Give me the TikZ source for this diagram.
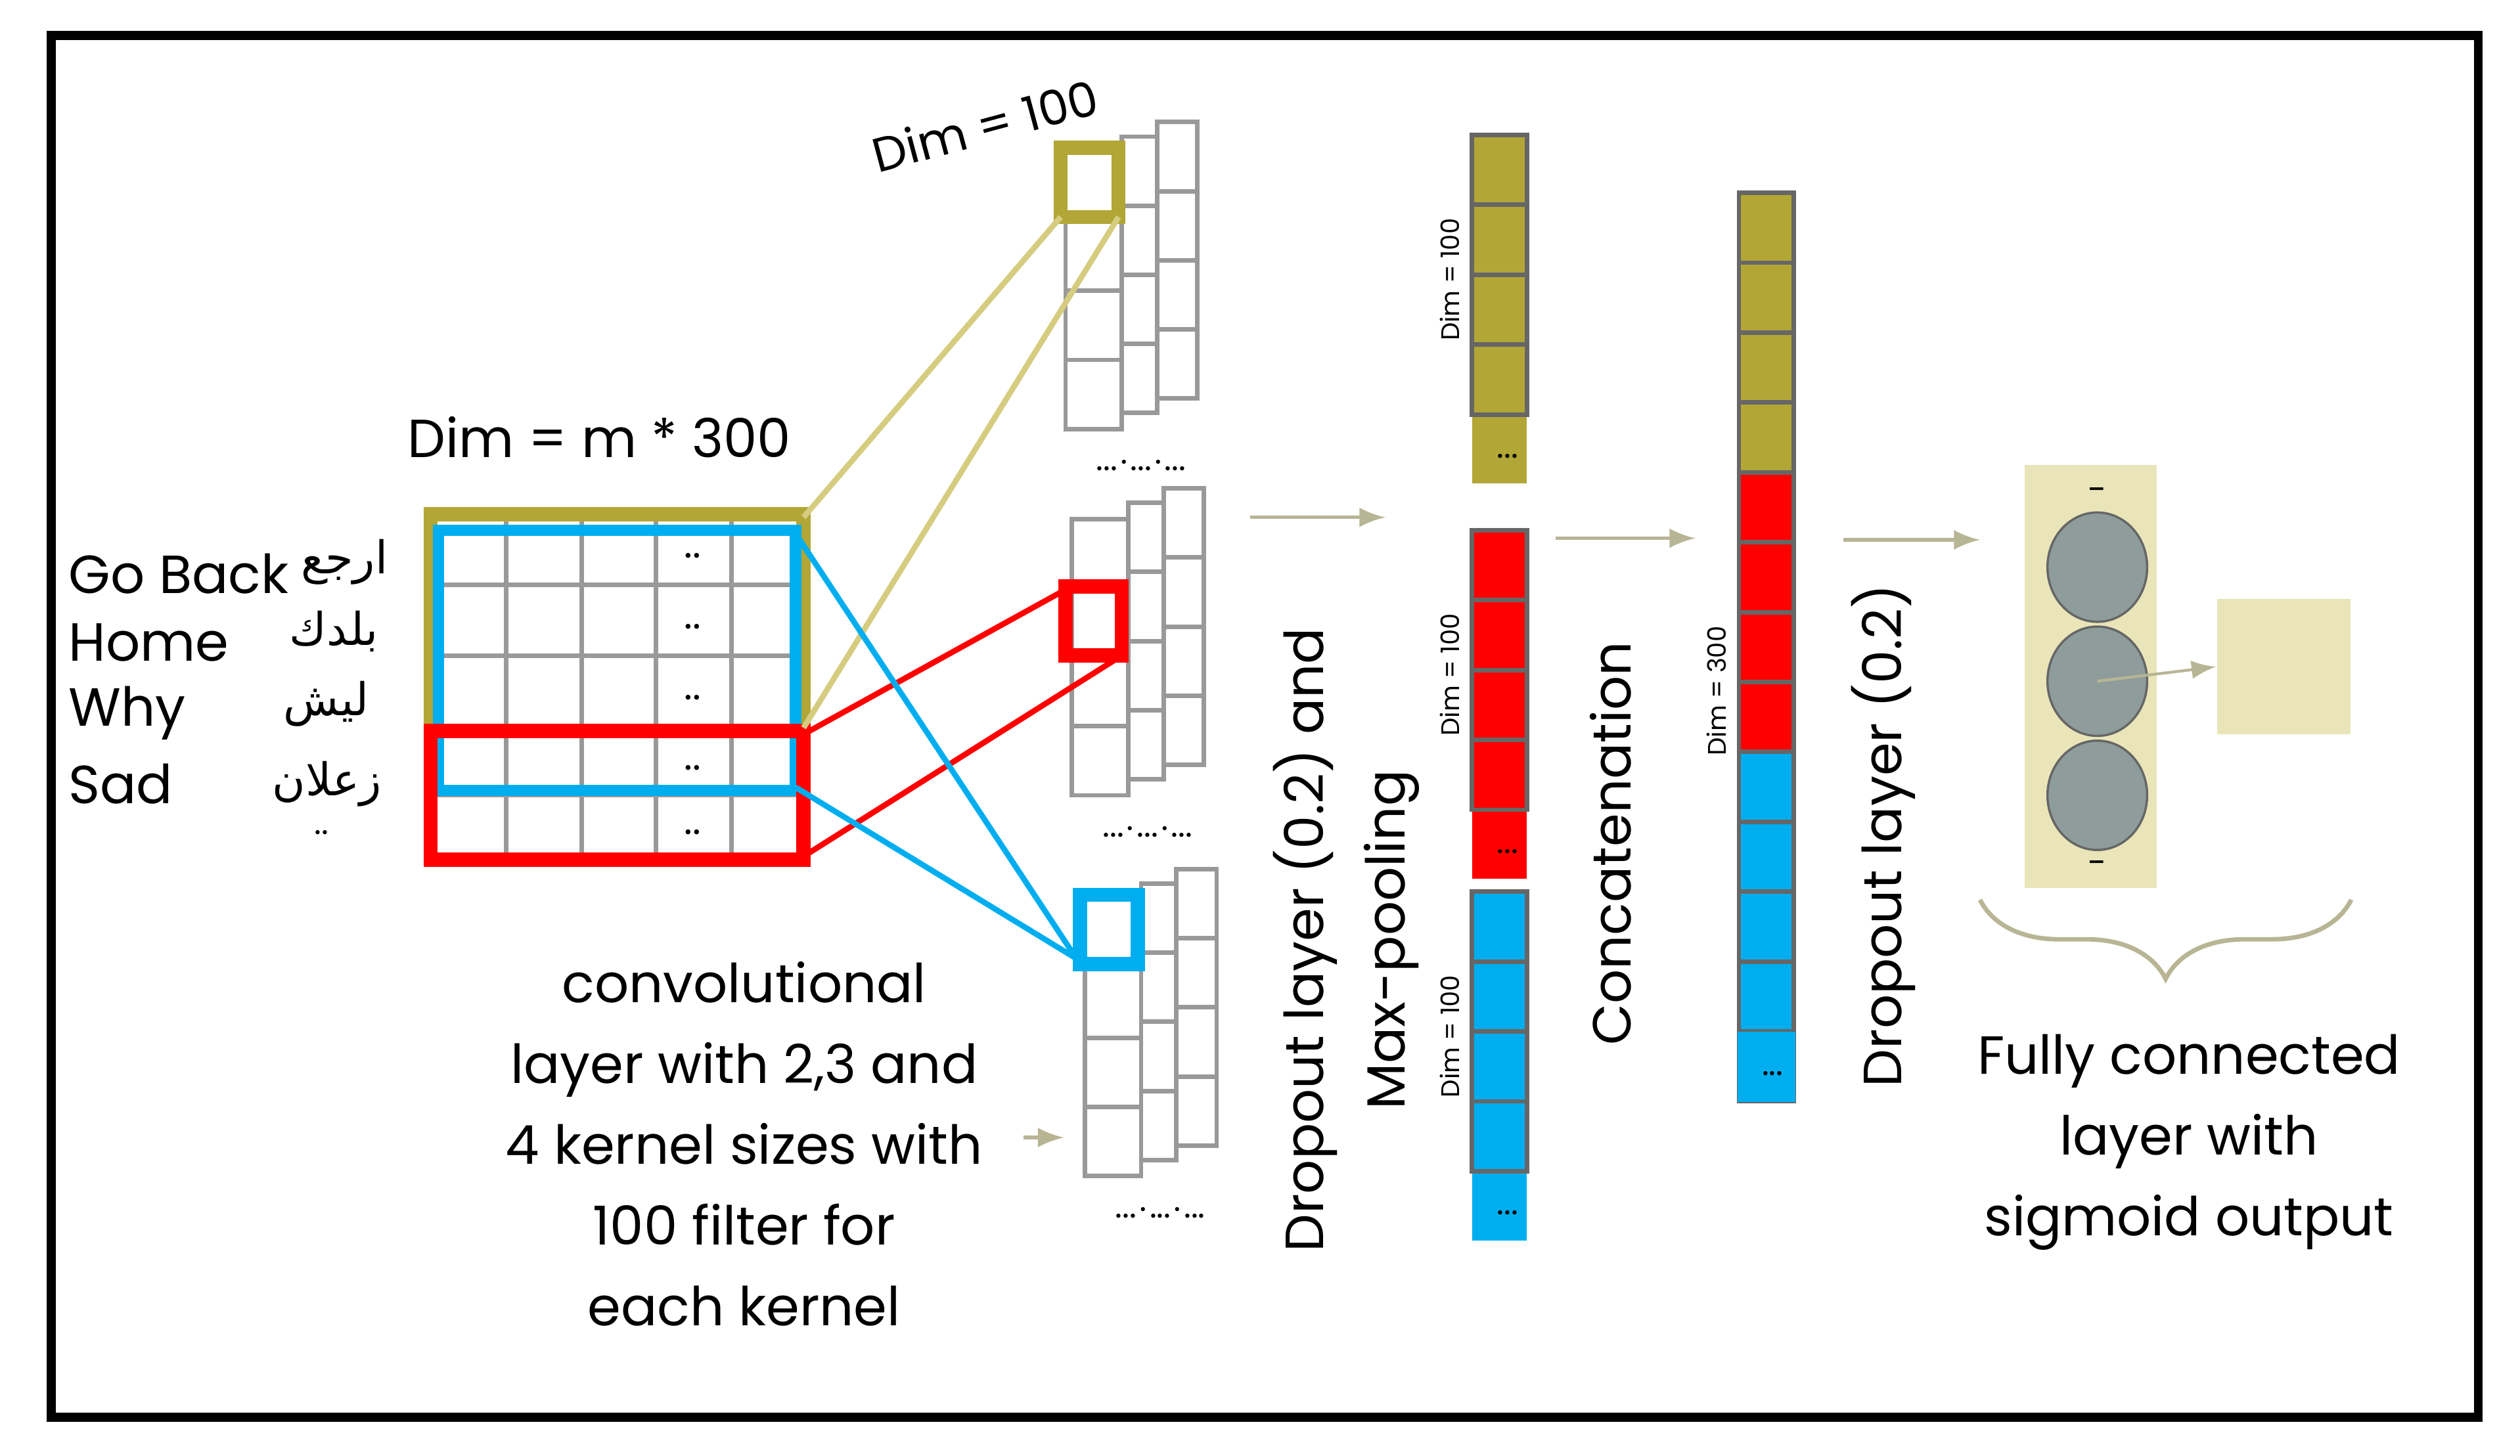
\documentclass[tikz,border=0pt]{standalone}
\usepackage{fontspec}
\setmainfont{Poppins}
\newfontfamily\arab[Script=Arabic]{DejaVu Sans}
\usetikzlibrary{decorations.pathreplacing,shapes.geometric}
\definecolor{olv}{HTML}{B2A636}
\definecolor{olvl}{HTML}{D6CC80}
\definecolor{rd}{HTML}{FF0000}
\definecolor{bl}{HTML}{00AEEF}
\definecolor{beige}{HTML}{E9E5B9}
\definecolor{arw}{HTML}{B8B595}
\definecolor{node}{HTML}{8E9D9B}
\tikzset{
 txt/.style={font=\fontsize{9.5}{11}\selectfont, inner sep=0},
 small/.style={font=\fontsize{4.5}{5}\selectfont, inner sep=0, rotate=90},
 cell/.style={draw=gray!80, line width=0.8pt, fill=white},
 vcell/.style={draw=black!60, line width=0.8pt},
 flow/.style={->, arw, line width=0.6pt, >=latex},
}
\begin{document}
\begin{tikzpicture}[x=0.01cm,y=-0.01cm]
\useasboundingbox (0,0) rectangle (1568,906);
\draw[line width=1.6pt] (32,22) rectangle (1542,882);

% input matrix
\foreach \xa/\xb in {268/315,315/362,362/408,408/455,455/500}
  \foreach \ya/\yb in {320/364,364/408,408/452,452/495,495/535}
    \draw[cell] (\xa,\ya) rectangle (\xb,\yb);
\foreach \y in {346,390,434,478,518} \node[txt, font=\fontsize{7}{8}\selectfont] at (431,\y) {..};
\draw[olv, line width=2.5pt] (268,320) rectangle (500,455);
\draw[bl, line width=2pt] (273,330) rectangle (495,492);
\draw[rd, line width=2.5pt] (268,455) rectangle (500,535);
\coordinate (oa) at (500,322); \coordinate (ob) at (500,453);
\coordinate (ra) at (500,457); \coordinate (rb) at (500,533);
\coordinate (ba) at (495,332); \coordinate (bb) at (495,490);

\node[txt, anchor=west] (w1) at (42,357) {Go Back};
\node[txt, anchor=west] (w2) at (42,400) {Home};
\node[txt, anchor=west] (w3) at (42,444) {Why};
\node[txt, anchor=west] (w4) at (42,488) {Sad};
\node[txt, anchor=east, font=\fontsize{8}{9}\selectfont] (a1) at (242,350) {\arab ارجع};
\node[txt, anchor=east, font=\fontsize{8}{9}\selectfont] (a2) at (236,393) {\arab بلدك};
\node[txt, anchor=east, font=\fontsize{8}{9}\selectfont] (a3) at (230,438) {\arab ليش};
\node[txt, anchor=east, font=\fontsize{8}{9}\selectfont] (a4) at (238,488) {\arab زعلان};
\node[txt, font=\fontsize{6}{7}\selectfont] (ad) at (200,518) {..};
\node[txt] (dimin) at (373,272) {Dim = m * 300};

% feature maps
\foreach \n/\x/\y in {1/663/95, 2/667/323, 3/675/560}{
  \foreach \k in {0,...,3} \draw[cell] (\x+57,\y-19+\k*43) rectangle (\x+82,\y+24+\k*43);
  \foreach \k in {0,...,3} \draw[cell] (\x+35,\y-10+\k*43) rectangle (\x+57,\y+33+\k*43);
  \foreach \k in {0,...,3} \draw[cell] (\x,\y+\k*43) rectangle (\x+35,\y+43+\k*43);
  \node[txt, font=\fontsize{6}{7}\selectfont] (dots\n) at (\x+47,\y+193) {...$\cdot$...$\cdot$...};
}
\draw[olv, line width=2.5pt] (660,92) rectangle (696,135);
\draw[rd, line width=2.5pt] (663,365) rectangle (698,408);
\draw[bl, line width=2.5pt] (672,557) rectangle (708,600);
\coordinate (ot1) at (660,135); \coordinate (ot2) at (696,135);
\coordinate (rt1) at (663,367); \coordinate (rt2) at (698,408);
\coordinate (bt1) at (672,600); \coordinate (bt2) at (672,598);
\draw[olvl, line width=1pt] (oa) -- (ot1) (ob) -- (ot2);
\draw[rd, line width=1pt] (ra) -- (rt1) (rb) -- (rt2);
\draw[bl, line width=1pt] (ba) -- (bt1) (bb) -- (bt2);
\node[txt, rotate=15, font=\fontsize{8.5}{10}\selectfont] (dimf) at (613,78) {Dim = 100};

\node[txt, align=center, font=\fontsize{9.5}{14.3}\selectfont] (conv) at (463,712)
  {convolutional\\layer with 2,3 and\\4 kernel sizes with\\100 filter for\\each kernel};
\coordinate (cv) at (637,708); \coordinate (cvt) at (662,708);
\draw[flow] (cv) -- (cvt);

% pooled vectors
\foreach \n/\c/\y in {1/olv/84, 2/rd/330, 3/bl/555}{
  \fill[\c] (916,\y) rectangle (950,\y+217);
  \foreach \k in {0,...,3} \draw[vcell] (916,\y+\k*43.5) rectangle (950,\y+43.5+\k*43.5);
  \node[txt, font=\fontsize{6}{7}\selectfont] at (938,\y+200) {...};
  \node[small] (pd\n) at (902,\y+90) {Dim = 100};
}
\node[txt, rotate=90] (drop1) at (812,585) {Dropout layer (0.2) and};
\node[txt, rotate=90] (maxp) at (866,585) {Max-pooling};
\coordinate (p1) at (778,322); \coordinate (p2) at (862,322);
\draw[flow] (p1) -- (p2);

% concatenated vector
\fill[olv] (1082,120) rectangle (1116,295);
\fill[rd] (1082,295) rectangle (1116,468);
\fill[bl] (1082,468) rectangle (1116,685);
\foreach \k in {0,...,12} \draw[vcell] (1082,120+\k*43.5) rectangle (1116,163.5+\k*43.5);
\fill[bl] (1081,642) rectangle (1117,686);
\node[txt, font=\fontsize{6}{7}\selectfont] at (1103,668) {...};
\node[small] (cd) at (1068,430) {Dim = 300};
\node[txt, rotate=90] (conc) at (1002,525) {Concatenation};
\coordinate (c1) at (968,335); \coordinate (c2) at (1055,335);
\draw[flow] (c1) -- (c2);
\node[txt, rotate=90] (drop2) at (1172,520) {Dropout layer (0.2)};
\coordinate (d1) at (1147,336); \coordinate (d2) at (1232,336);
\draw[flow] (d1) -- (d2);

% fully connected
\node[fill=beige, minimum width=0.82cm, minimum height=2.63cm, inner sep=0] (fc) at (1301,421) {};
\node[fill=beige, minimum width=0.83cm, minimum height=0.84cm, inner sep=0] (out) at (1421,415) {};
\foreach \n/\y in {1/353,2/424,3/495}
  \node[ellipse, draw=black!60, fill=node, minimum width=0.62cm, minimum height=0.68cm, inner sep=0] (h\n) at (1305,\y) {};
\node[txt, font=\fontsize{6}{7}\selectfont] at (1305,308) {-};
\node[txt, font=\fontsize{6}{7}\selectfont] at (1305,540) {-};
\draw[flow, line width=0.5pt] (h2.center) -- (out.west);
\coordinate (br1) at (1463,560); \coordinate (br2) at (1232,560);
\draw[arw, line width=0.8pt, decorate, decoration={brace, amplitude=14}] (br1) -- (br2);
\node[txt, align=center, font=\fontsize{9.5}{14.3}\selectfont] (fct) at (1362,711)
  {Fully connected\\layer with\\sigmoid output};
\end{tikzpicture}
\end{document}
